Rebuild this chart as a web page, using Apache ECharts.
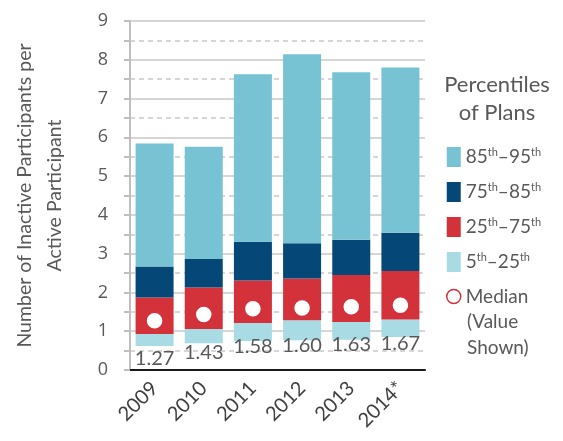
<!DOCTYPE html>
<html>
<head>
<meta charset="utf-8">
<script src="https://cdn.jsdelivr.net/npm/echarts@6/dist/echarts.min.js"></script>
<style>
  html, body { margin: 0; padding: 0; background: #fff; }
  #chart { width: 563px; height: 441px; }
</style>
</head>
<body>
<div id="chart"></div>
<script>
var years = ['2009', '2010', '2011', '2012', '2013', '2014*'];
var p5  = [0.62, 0.69, 0.75, 0.77, 0.78, 0.85];
var p25 = [0.93, 1.06, 1.21, 1.28, 1.24, 1.30];
var p75 = [1.87, 2.13, 2.31, 2.36, 2.45, 2.55];
var p85 = [2.67, 2.86, 3.31, 3.27, 3.36, 3.54];
var p95 = [5.84, 5.76, 7.63, 8.14, 7.68, 7.80];
var median = [1.27, 1.43, 1.58, 1.60, 1.63, 1.67];

var FONT = 'Lato';
var GREY = '#595959';

function diff(hi, lo) {
  return hi.map(function (v, i) { return +(v - lo[i]).toFixed(2); });
}

var supRich = {
  n: { fontFamily: FONT, fontSize: 19, color: GREY, lineHeight: 20 },
  s: { fontFamily: FONT, fontSize: 11, color: GREY, lineHeight: 20, verticalAlign: 'top' }
};

function rangeName(a, b) {
  return '{n|' + a + '}{s|th}{n|–' + b + '}{s|th}';
}

var names = {
  top: '85–95',
  upper: '75–85',
  mid: '25–75',
  low: '5–25',
  med: 'Median'
};

var chart = echarts.init(document.getElementById('chart'));

var barBase = { type: 'bar', stack: 'p', barWidth: 38 };

chart.setOption({
  animation: false,
  grid: { left: 130, right: 138, top: 21, bottom: 71 },
  title: {
    text: 'Percentiles\nof Plans',
    left: 497,
    top: 71,
    padding: 0,
    textAlign: 'center',
    textStyle: { fontFamily: FONT, fontSize: 22, fontWeight: 'normal', color: GREY, lineHeight: 28 }
  },
  legend: {
    orient: 'vertical',
    left: 446,
    top: 147,
    padding: 0,
    itemWidth: 14,
    itemHeight: 20,
    itemGap: 15,
    data: [
      { name: names.top, icon: 'rect' },
      { name: names.upper, icon: 'rect' },
      { name: names.mid, icon: 'rect' },
      { name: names.low, icon: 'rect' },
      { name: names.med, icon: 'circle', itemStyle: { borderWidth: 1.5 } }
    ],
    formatter: function (name) {
      if (name === names.med) return '{n|Median}';
      var parts = name.split('–');
      return rangeName(parts[0], parts[1]);
    },
    textStyle: { rich: supRich }
  },
  graphic: [{
    type: 'text',
    left: 467,
    top: 309,
    style: {
      text: '(Value\nShown)',
      font: '19px Lato',
      fill: GREY,
      lineHeight: 26
    }
  }],
  xAxis: {
    type: 'category',
    data: years,
    axisLine: { lineStyle: { color: '#1a1a1a', width: 2 } },
    axisTick: { show: false },
    axisLabel: {
      rotate: 45,
      margin: 15,
      fontFamily: FONT,
      fontSize: 20,
      color: '#404040'
    }
  },
  yAxis: {
    type: 'value',
    min: 0,
    max: 9,
    interval: 1,
    name: 'Number of Inactive Participants per\nActive Participant',
    nameLocation: 'middle',
    nameGap: 60,
    nameTextStyle: { fontFamily: FONT, fontSize: 19.5, color: GREY, lineHeight: 30 },
    axisLine: { show: true, lineStyle: { color: '#bfbfbf', width: 2 } },
    axisTick: { show: true, length: 6, lineStyle: { color: '#bfbfbf', width: 2 } },
    minorTick: { show: true, splitNumber: 2, length: 6, lineStyle: { color: '#bfbfbf', width: 2 } },
    axisLabel: { margin: 22, fontFamily: 'Open Sans', fontSize: 18, color: GREY },
    splitLine: { show: true, lineStyle: { color: '#c9c9c9', width: 1.5 } },
    minorSplitLine: { show: true, lineStyle: { color: '#c9c9c9', width: 1.5, type: [5, 4] } }
  },
  series: [
    Object.assign({}, barBase, {
      name: 'base',
      data: p5,
      itemStyle: { color: 'transparent' },
      silent: true
    }),
    Object.assign({}, barBase, {
      name: names.low,
      data: diff(p25, p5),
      itemStyle: { color: '#a9dbe5' }
    }),
    Object.assign({}, barBase, {
      name: names.mid,
      data: diff(p75, p25),
      itemStyle: { color: '#d3323a' }
    }),
    Object.assign({}, barBase, {
      name: names.upper,
      data: diff(p85, p75),
      itemStyle: { color: '#054878' }
    }),
    Object.assign({}, barBase, {
      name: names.top,
      data: diff(p95, p85),
      itemStyle: { color: '#77c3d4' }
    }),
    {
      name: names.med,
      type: 'scatter',
      data: median,
      symbol: 'circle',
      symbolSize: 17,
      z: 5,
      itemStyle: { color: '#ffffff', borderColor: '#d3323a', borderWidth: 1.5, opacity: 1 },
      label: {
        show: true,
        position: 'inside',
        offset: [0, 38],
        formatter: function (p) { return p.value.toFixed(2); },
        fontFamily: FONT,
        fontSize: 20,
        color: GREY
      }
    }
  ]
});
</script>
</body>
</html>
